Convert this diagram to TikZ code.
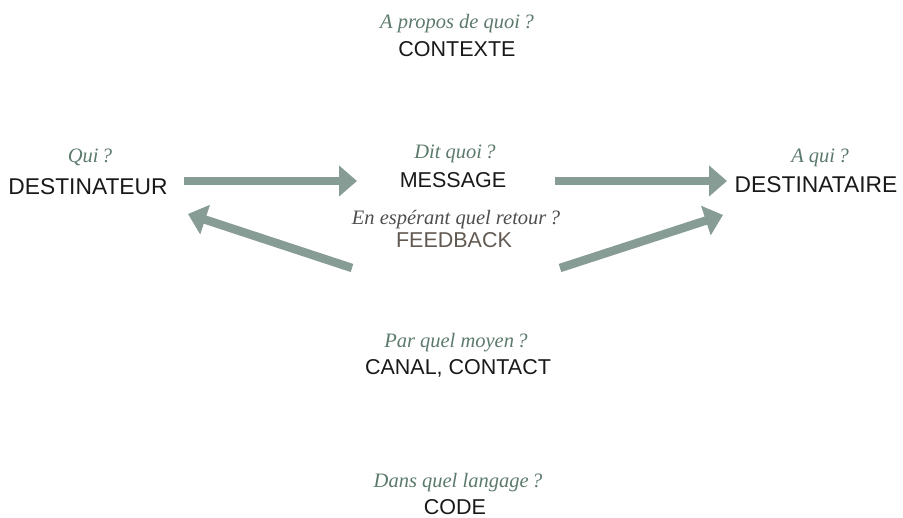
\documentclass[tikz,border=0pt]{standalone}
\usepackage{fontspec}
\setmainfont{Liberation Serif}
\newfontfamily\capsfont{Liberation Sans}
\usetikzlibrary{arrows.meta}
\definecolor{qgreen}{RGB}{92,122,108}
\definecolor{qgray}{RGB}{78,78,78}
\definecolor{arrowc}{RGB}{135,156,148}
\definecolor{fbcol}{RGB}{98,90,82}
\definecolor{txtc}{RGB}{25,25,25}
\tikzset{
  x=1pt, y=-1pt,
  question/.style={anchor=base, inner sep=0pt, text=qgreen, font=\fontsize{20.5}{23}\selectfont\itshape},
  label/.style={anchor=base, inner sep=0pt, text=txtc, font=\capsfont\fontsize{21.5}{24}\selectfont},
  sidelabel/.style={label, font=\capsfont\fontsize{22.8}{25}\selectfont},
  bigarrow/.style={draw=arrowc, line width=7.5pt, -{Triangle[length=18pt,width=30pt]}},
}
\begin{document}
\begin{tikzpicture}
\useasboundingbox (0,0) rectangle (903,518);
% Contexte
\node[question] (q1) at (457,29) {A propos de quoi\,?};
\node[label] (l1) at (457,56.5) {CONTEXTE};
% Destinateur
\node[question] (q2) at (90,163) {Qui\,?};
\node[sidelabel] (l2) at (88,195) {DESTINATEUR};
% Message
\node[question] (q3) at (455,159) {Dit quoi\,?};
\node[label] (l3) at (453,188) {MESSAGE};
% Destinataire
\node[question] (q4) at (820,163) {A qui\,?};
\node[sidelabel] (l4) at (816,193) {DESTINATAIRE};
% Feedback
\node[question, text=qgray] (q5) at (456,225) {En espérant quel retour\,?};
\node[label, text=fbcol] (l5) at (454,248) {FEEDBACK};
% Canal
\node[question] (q6) at (456,348) {Par quel moyen\,?};
\node[label] (l6) at (458,375) {CANAL, CONTACT};
% Code
\node[question] (q7) at (458,488) {Dans quel langage\,?};
\node[label] (l7) at (455,515) {CODE};
% Arrows
\coordinate (a1s) at (184,181);
\coordinate (a1e) at (357,181);
\coordinate (a2s) at (555,181);
\coordinate (a2e) at (727,181);
\coordinate (a3s) at (352,268);
\coordinate (a3e) at (188,214);
\coordinate (a4s) at (560,268);
\coordinate (a4e) at (723,215);
\draw[bigarrow] (a1s) -- (a1e);
\draw[bigarrow] (a2s) -- (a2e);
\draw[bigarrow, line width=8.5pt] (a3s) -- (a3e);
\draw[bigarrow, line width=8.5pt] (a4s) -- (a4e);
\end{tikzpicture}
\end{document}
